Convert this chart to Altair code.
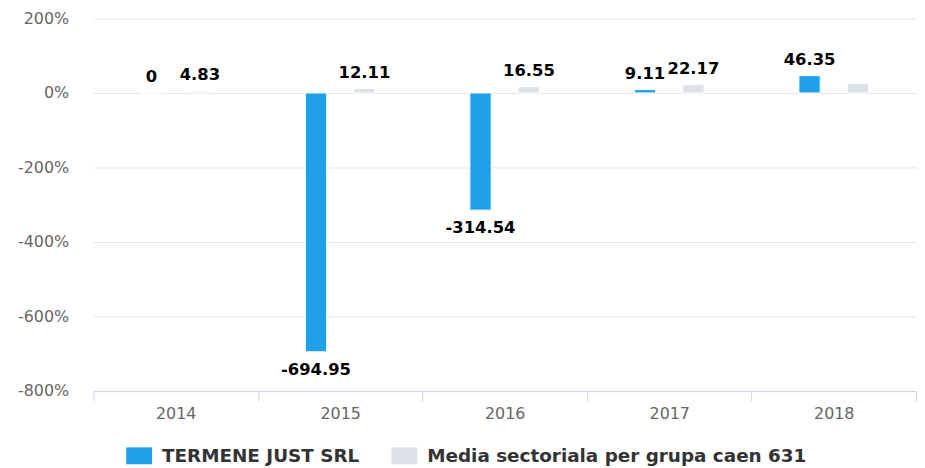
import altair as alt
import pandas as pd

years = ["2014", "2015", "2016", "2017", "2018"]
series_names = ["TERMENE JUST SRL", "Media sectoriala per grupa caen 631"]
company_values = [0, -694.95, -314.54, 9.11, 46.35]
sector_values = [4.83, 12.11, 16.55, 22.17, 25.0]
company_labels = ["0", "-694.95", "-314.54", "9.11", "46.35"]
sector_labels = ["4.83", "12.11", "16.55", "22.17", ""]
y_ticks = [-800, -600, -400, -200, 0, 200]
colors = ["#1ea1e9", "#dde1ea"]

rows = []
for i, yr in enumerate(years):
    rows.append({"year": yr, "series": series_names[0], "value": company_values[i], "label": company_labels[i]})
    rows.append({"year": yr, "series": series_names[1], "value": sector_values[i], "label": sector_labels[i]})
df = pd.DataFrame(rows)

FONT = "DejaVu Sans"

x = alt.X("year:N", sort=years, title=None,
          scale=alt.Scale(paddingInner=0, paddingOuter=0),
          axis=alt.Axis(labelAngle=0, labelColor="#666666", labelFontSize=16, labelFont=FONT,
                        tickBand="extent", tickColor="#ccd6eb", tickSize=10, domainColor="#ccd6eb",
                        labelPadding=5, grid=False))
xoff = alt.XOffset("series:N", sort=series_names,
                   scale=alt.Scale(paddingInner=0.56, paddingOuter=0.98))
y = alt.Y("value:Q", title=None,
          scale=alt.Scale(domain=[-800, 200], nice=False, zero=False),
          axis=alt.Axis(values=y_ticks, labelExpr="datum.value + '%'", labelColor="#666666",
                        labelFontSize=16, labelFont=FONT, labelPadding=25, ticks=False, domain=False,
                        gridColor="#e6e6e6"))

base = alt.Chart(df)

bars = base.mark_bar(stroke="white", strokeWidth=1).encode(
    x=x, xOffset=xoff, y=y, y2=alt.datum(0),
    color=alt.Color("series:N", sort=series_names,
                    scale=alt.Scale(domain=series_names, range=colors),
                    legend=alt.Legend(title=None, orient="none", direction="horizontal",
                                      legendX=33, legendY=427,
                                      symbolType="M-1,-0.654H1V0.654H-1Z", symbolSize=676,
                                      symbolStrokeWidth=0, labelFont=FONT, labelFontSize=18.5,
                                      labelFontWeight="bold", labelColor="#333333", columnPadding=32,
                                      labelOffset=10, labelLimit=500)),
)

pos_text = base.transform_filter("datum.value >= 0").mark_text(
    font=FONT, fontSize=16.5, fontWeight="bold", color="black", baseline="bottom", dy=-8
).encode(x=x, xOffset=xoff, y=y, text="label:N")

neg_text = base.transform_filter("datum.value < 0").mark_text(
    font=FONT, fontSize=16.5, fontWeight="bold", color="black", baseline="top", dy=10
).encode(x=x, xOffset=xoff, y=y, text="label:N")

chart = alt.layer(bars, pos_text, neg_text).properties(
    width=828, height=375, padding={"left": 9, "top": 1, "right": 0, "bottom": 0}
).configure_view(stroke=None)

chart.save("out.html", embed_options={"renderer": "svg", "actions": False})
